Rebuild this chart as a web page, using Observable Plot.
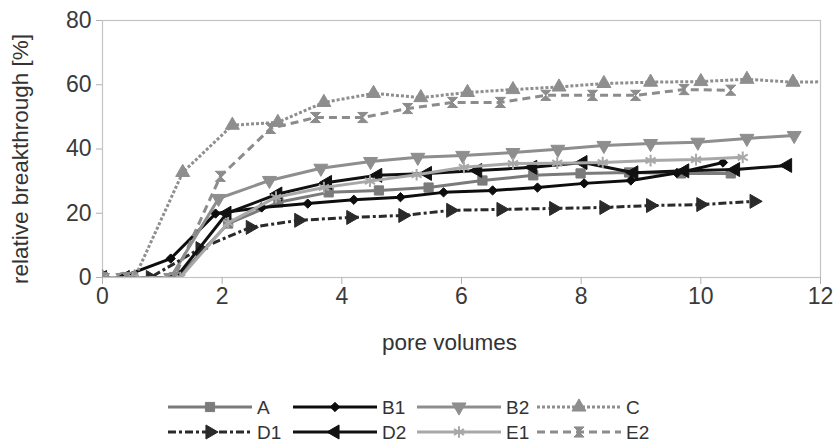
<!DOCTYPE html>
<html>
<head>
<meta charset="utf-8">
<script src="https://cdn.jsdelivr.net/npm/d3@7"></script>
<script src="https://cdn.jsdelivr.net/npm/@observablehq/plot@0.6"></script>
<style>
  html, body { margin: 0; padding: 0; background: #fff; }
  #chart { width: 837px; }
  svg { display: block; }
</style>
</head>
<body>
<div id="chart"></div>
<script>
// ---- data ----
const seriesNames = ["A", "B1", "B2", "C", "D1", "D2", "E1", "E2"];

const xA  = [0, 0.42, 1.26, 2.1, 2.94, 3.78, 4.62, 5.45, 6.35, 7.2, 7.99, 8.8, 9.67, 10.5];
const yA  = [0, 0, 0, 16.8, 23.4, 26.5, 27.1, 28.0, 30.2, 31.8, 32.4, 32.7, 32.4, 32.4];

const xB1 = [0, 0.3, 1.14, 1.89, 2.66, 3.43, 4.2, 4.98, 5.7, 6.52, 7.27, 8.05, 8.83, 9.6, 10.37];
const yB1 = [0, 0, 5.9, 19.9, 21.8, 23.0, 24.2, 25.0, 26.5, 27.1, 28.0, 29.3, 30.2, 32.5, 35.8];

const xB2 = [0, 0.34, 1.14, 1.94, 2.79, 3.65, 4.48, 5.27, 6.02, 6.86, 7.61, 8.38, 9.16, 9.95, 10.77, 11.56];
const yB2 = [0, 0, 0, 24.6, 30.2, 34.0, 36.1, 37.4, 38.0, 38.9, 39.9, 41.1, 41.7, 42.1, 43.3, 44.2];

const xC  = [0, 0.54, 1.34, 2.17, 2.93, 3.7, 4.53, 5.32, 6.1, 6.86, 7.63, 8.38, 9.16, 10.0, 10.77, 11.54, 12.32];
const yC  = [0, 0, 32.7, 47.4, 48.3, 54.5, 57.3, 56.0, 57.6, 58.5, 59.3, 60.4, 60.8, 61.0, 61.7, 60.8, 61.0];

const xD1 = [0, 0.8, 1.63, 2.47, 3.28, 4.15, 5.02, 5.82, 6.66, 7.54, 8.38, 9.16, 10.0, 10.89];
const yD1 = [0, 0, 9.0, 15.6, 17.8, 18.7, 19.3, 20.9, 21.2, 21.5, 21.8, 22.4, 22.7, 23.7];

const xD2 = [0, 0.38, 1.23, 2.08, 2.93, 3.76, 4.6, 5.43, 6.27, 7.19, 8.03, 8.88, 9.73, 10.58, 11.45];
const yD2 = [0, 0, 0, 20.0, 26.0, 29.6, 31.8, 32.4, 33.3, 34.3, 35.8, 32.6, 33.2, 33.6, 34.9];

const xE1 = [0, 0.5, 1.3, 2.1, 2.9, 3.7, 4.47, 5.25, 6.04, 6.86, 7.6, 8.36, 9.16, 9.92, 10.7];
const yE1 = [0, 0, 0, 17.0, 25.0, 28.0, 30.0, 32.0, 34.3, 35.5, 35.6, 35.8, 36.4, 36.7, 37.4];

const xE2 = [0, 0.4, 1.2, 1.97, 2.81, 3.56, 4.35, 5.1, 5.85, 6.65, 7.41, 8.19, 8.91, 9.72, 10.5];
const yE2 = [0, 0, 0, 31.5, 46.4, 49.8, 49.8, 52.6, 54.5, 54.5, 56.7, 56.7, 56.7, 58.5, 58.3];

const xTicks = [0, 2, 4, 6, 8, 10, 12];
const yTicks = [0, 20, 40, 60, 80];
const xLabel = "pore volumes";
const yLabel = "relative breakthrough [%]";

// ---- styles ----
const hourglass = {
  draw(ctx, size) {
    const r = Math.sqrt(size) * 0.55;
    ctx.moveTo(-r, -r); ctx.lineTo(r, -r); ctx.lineTo(-r, r); ctx.lineTo(r, r); ctx.closePath();
  }
};
const style = {
  A:  {color: "#7b7b7b", dash: null,          symbol: "square",   rotate: 0,   r: 5.2, fill: true},
  B1: {color: "#0d0d0d", dash: null,          symbol: "diamond2", rotate: 0,   r: 4.2, fill: true},
  B2: {color: "#8e8e8e", dash: null,          symbol: "triangle", rotate: 180, r: 5.2, fill: true},
  C:  {color: "#8e8e8e", dash: "3,2",         symbol: "triangle", rotate: 0,   r: 5.2, fill: true},
  D1: {color: "#2a2a2a", dash: "8,3,3,3",     symbol: "triangle", rotate: 90,  r: 5.2, fill: true},
  D2: {color: "#111111", dash: null,          symbol: "triangle", rotate: -90, r: 5.2, fill: true},
  E1: {color: "#a8a8a8", dash: null,          symbol: "asterisk", rotate: 0,   r: 5.5, fill: false},
  E2: {color: "#8c8c8c", dash: "8,5",         symbol: hourglass,  rotate: 0,   r: 5.2, fill: true}
};
const xs = {A: xA, B1: xB1, B2: xB2, C: xC, D1: xD1, D2: xD2, E1: xE1, E2: xE2};
const ys = {A: yA, B1: yB1, B2: yB2, C: yC, D1: yD1, D2: yD2, E1: yE1, E2: yE2};

const rows = seriesNames.map(n => xs[n].map((x, i) => ({series: n, x, y: ys[n][i]})));

const FONT = "'Liberation Sans', Arial, sans-serif";

const marks = [
  Plot.frame({stroke: "#c4c4c4", strokeWidth: 1.2}),
  Plot.axisY({ticks: yTicks, tickSize: 6, tickPadding: 5, label: null, stroke: "#b0b0b0", fill: "#3a3a3a", fontSize: 23}),
  Plot.axisX({ticks: xTicks, tickSize: 7, tickPadding: 3, label: null, stroke: "#b0b0b0", fill: "#3a3a3a", fontSize: 23}),
];
seriesNames.forEach((n, k) => {
  const s = style[n];
  marks.push(Plot.line(rows[k], {x: "x", y: "y", stroke: s.color, strokeWidth: 3,
    strokeDasharray: s.dash || undefined, strokeLinecap: "butt", clip: true}));
  marks.push(Plot.dot(rows[k], {x: "x", y: "y", symbol: s.symbol, r: s.r, rotate: s.rotate,
    fill: s.fill ? s.color : "none", stroke: s.color, strokeWidth: s.fill ? 1 : 2, clip: true}));
});
marks.push(Plot.text([yLabel], {frameAnchor: "left", textAnchor: "middle", text: d => d, rotate: -90, dx: -82, dy: 10,
  fontSize: 22.5, fill: "#333"}));
marks.push(Plot.text([xLabel], {frameAnchor: "bottom", textAnchor: "middle", text: d => d, dx: -12, dy: 72,
  fontSize: 22.5, fill: "#333"}));

const plot = Plot.plot({
  width: 837,
  height: 380,
  marginLeft: 102,
  marginRight: 17,
  marginTop: 20,
  marginBottom: 103,
  x: {domain: [0, 12]},
  y: {domain: [0, 80]},
  style: {fontFamily: FONT, background: "#fff", overflow: "visible"},
  marks
});
document.getElementById("chart").appendChild(plot);

// ---- legend ----
const legend = d3.select("#chart").append("svg")
  .attr("width", 837).attr("height", 63)
  .style("font-family", FONT);
const colX = [168, 293, 417, 537];
const rowY = [27, 52];
seriesNames.forEach((n, k) => {
  const s = style[n];
  const x0 = colX[k % 4], y0 = rowY[Math.floor(k / 4)];
  const g = legend.append("g").attr("transform", `translate(${x0},${y0})`);
  g.append("line").attr("x1", 0).attr("x2", 84).attr("y1", 0).attr("y2", 0)
    .attr("stroke", s.color).attr("stroke-width", 3)
    .attr("stroke-dasharray", s.dash);
  const sym = typeof s.symbol === "string"
    ? {square: d3.symbolSquare, diamond2: d3.symbolDiamond2, triangle: d3.symbolTriangle, asterisk: d3.symbolAsterisk}[s.symbol]
    : s.symbol;
  g.append("path").attr("d", d3.symbol(sym, Math.PI * s.r * s.r)())
    .attr("transform", `translate(42,0) rotate(${s.rotate})`)
    .attr("fill", s.fill ? s.color : "none").attr("stroke", s.color)
    .attr("stroke-width", s.fill ? 1 : 2);
  g.append("text").attr("x", 89).attr("y", 0).attr("dy", "0.35em")
    .attr("font-size", 19).attr("fill", "#333").text(n);
});
</script>
</body>
</html>
